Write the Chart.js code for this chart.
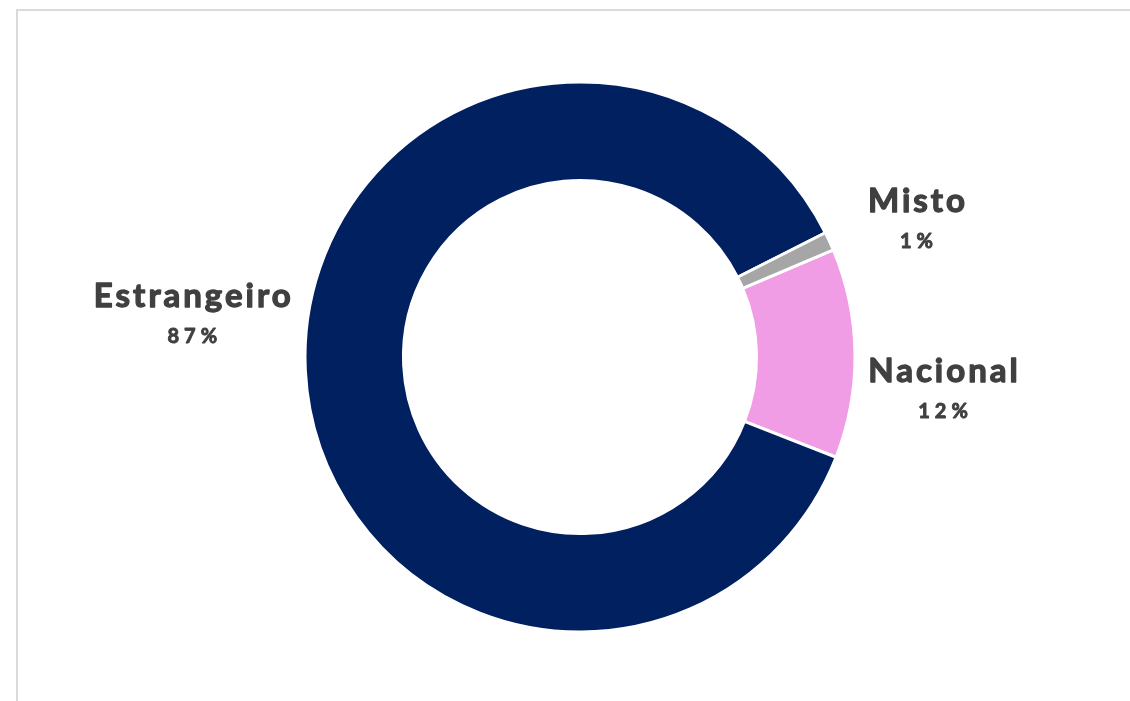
<!DOCTYPE html>
<html>
<head>
<meta charset="utf-8">
<script src="https://cdn.jsdelivr.net/npm/chart.js@4/dist/chart.umd.min.js"></script>
<style>
  html, body { margin: 0; padding: 0; background: #ffffff; overflow: hidden; }
  #frame { position: absolute; left: 16px; top: 9px; width: 1300px; height: 900px; border: 2px solid #dadada; box-sizing: border-box; }
  #wrap { position: absolute; left: 0; top: 0; width: 1130px; height: 701px; }
</style>
</head>
<body>
<div id="frame"></div>
<div id="wrap"><canvas id="c" width="1130" height="701"></canvas></div>
<script>
// Data (clockwise from the start angle)
const categories = ['Nacional', 'Estrangeiro', 'Misto'];
const shares = [12.3, 86.6, 1.1];
const shareLabels = ['12%', '87%', '1%'];
const colors = ['#F19DE5', '#002060', '#A6A6A6'];
// Label offsets from the arc's outer mid-point (px)
const labelOffsets = [[88, 29], [-113, -63], [87, -29]];

const labelPlugin = {
  id: 'outerLabels',
  afterDatasetsDraw(chart) {
    const ctx = chart.ctx;
    const meta = chart.getDatasetMeta(0);
    meta.data.forEach((arc, i) => {
      const p = arc.getProps(['x', 'y', 'startAngle', 'endAngle', 'outerRadius'], true);
      const mid = (p.startAngle + p.endAngle) / 2;
      const ax = p.x + Math.cos(mid) * p.outerRadius + labelOffsets[i][0];
      const ay = p.y + Math.sin(mid) * p.outerRadius + labelOffsets[i][1];
      ctx.save();
      ctx.fillStyle = '#404040';
      ctx.strokeStyle = '#404040';
      ctx.lineJoin = 'round';
      ctx.textAlign = 'center';
      ctx.textBaseline = 'alphabetic';
      ctx.font = 'bold 33px Lato';
      ctx.letterSpacing = '3px';
      ctx.lineWidth = 1.3;
      ctx.fillText(categories[i], ax + 1.5, ay);
      ctx.strokeText(categories[i], ax + 1.5, ay);
      ctx.font = 'bold 20px Lato';
      ctx.letterSpacing = '5px';
      ctx.lineWidth = 0.9;
      ctx.fillText(shareLabels[i], ax + 2.5, ay + 36);
      ctx.strokeText(shareLabels[i], ax + 2.5, ay + 36);
      ctx.restore();
    });
  }
};

new Chart(document.getElementById('c'), {
  type: 'doughnut',
  data: {
    labels: categories,
    datasets: [{
      data: shares,
      backgroundColor: colors,
      borderColor: '#ffffff',
      borderWidth: 3,
      hoverOffset: 0
    }]
  },
  options: {
    responsive: false,
    animation: false,
    rotation: 67.1,
    radius: 275,
    cutout: '64.2%',
    layout: { padding: { left: 30, right: 0, top: 13, bottom: 0 } },
    plugins: {
      legend: { display: false },
      tooltip: { enabled: false }
    }
  },
  plugins: [labelPlugin]
});
</script>
</body>
</html>
